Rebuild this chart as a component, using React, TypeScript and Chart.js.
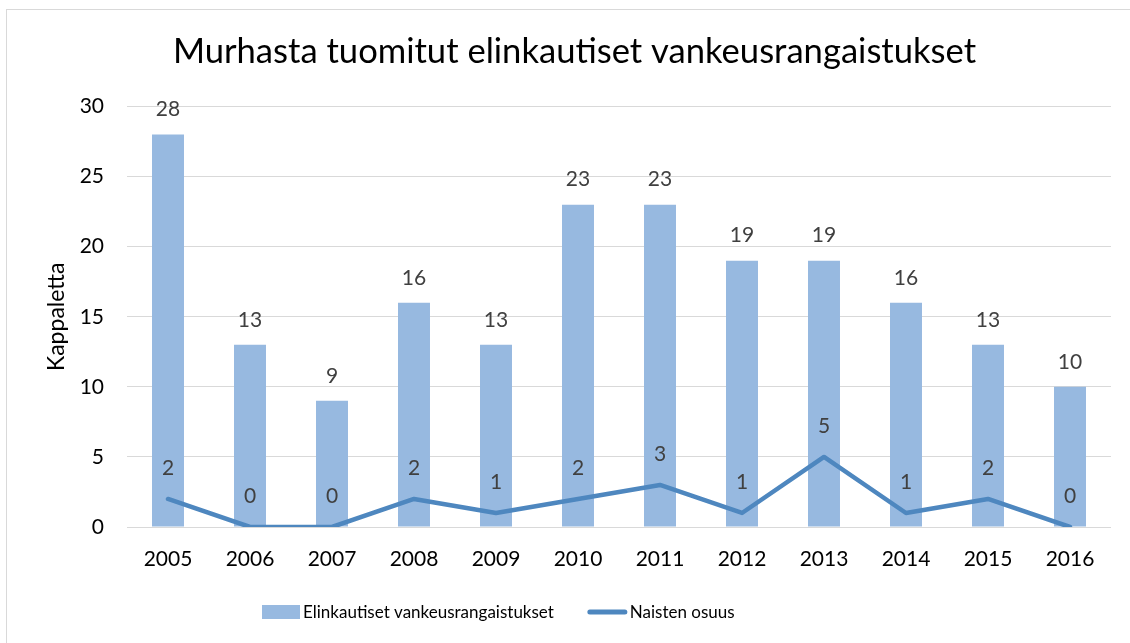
import React, { useEffect, useRef } from "react";
import { Chart, registerables } from "chart.js";

Chart.register(...registerables);

const years = ["2005", "2006", "2007", "2008", "2009", "2010", "2011", "2012", "2013", "2014", "2015", "2016"];
const lifeSentences = [28, 13, 9, 16, 13, 23, 23, 19, 19, 16, 13, 10];
const womenShare = [2, 0, 0, 2, 1, 2, 3, 1, 5, 1, 2, 0];
const yTicks = [0, 5, 10, 15, 20, 25, 30];

const FONT = "Lato";
const BAR_COLOR = "#97B9E0";
const LINE_COLOR = "#4E87BF";

const dataLabels = {
  id: "dataLabels",
  afterDatasetsDraw(chart: any) {
    const ctx = chart.ctx;
    ctx.save();
    ctx.font = `21px ${FONT}`;
    ctx.fillStyle = "#404040";
    ctx.textAlign = "center";
    ctx.textBaseline = "middle";
    chart.data.datasets.forEach((ds: any, i: number) => {
      const meta = chart.getDatasetMeta(i);
      const off = ds.type === "line" ? 31 : 25;
      meta.data.forEach((el: any, j: number) => {
        ctx.fillText(String(ds.data[j]), el.x, el.y - off);
      });
    });
    ctx.restore();
  },
};

const frame = {
  id: "frame",
  beforeDraw(chart: any) {
    const ctx = chart.ctx;
    ctx.save();
    ctx.fillStyle = "#ffffff";
    ctx.fillRect(0, 0, chart.width, chart.height);
    ctx.strokeStyle = "#D9D9D9";
    ctx.lineWidth = 1;
    ctx.strokeRect(6.5, 9.5, chart.width + 20, chart.height + 20);
    ctx.restore();
  },
};

// Legend drawn from the datasets (labels and colours)
const bottomLegend = {
  id: "bottomLegend",
  afterDraw(chart: any) {
    const ctx = chart.ctx;
    ctx.save();
    ctx.font = `17px ${FONT}`;
    ctx.textBaseline = "middle";
    ctx.textAlign = "left";
    const cy = 612;
    let x = 262;
    chart.data.datasets.forEach((ds: any) => {
      if (ds.type === "line") {
        ctx.strokeStyle = ds.borderColor;
        ctx.lineWidth = 5;
        ctx.lineCap = "round";
        ctx.beginPath();
        ctx.moveTo(x + 2, cy);
        ctx.lineTo(x + 37, cy);
        ctx.stroke();
        x += 42;
      } else {
        ctx.fillStyle = ds.backgroundColor;
        ctx.fillRect(x, cy - 7, 38, 14);
        x += 41;
      }
      ctx.fillStyle = "#000000";
      ctx.fillText(ds.label, x, cy + 1);
      x += ctx.measureText(ds.label).width + 34;
    });
    ctx.restore();
  },
};

export default function App() {
  const ref = useRef<HTMLCanvasElement>(null);
  useEffect(() => {
    document.body.style.margin = "0";
    const chart = new Chart(ref.current!, {
      type: "bar",
      data: {
        labels: years,
        datasets: [
          {
            type: "bar",
            label: "Elinkautiset vankeusrangaistukset",
            data: lifeSentences,
            backgroundColor: BAR_COLOR,
            borderWidth: 0,
            barPercentage: 0.39,
            categoryPercentage: 1,
            order: 1,
          } as any,
          {
            type: "line",
            label: "Naisten osuus",
            data: womenShare,
            borderColor: LINE_COLOR,
            backgroundColor: LINE_COLOR,
            borderWidth: 4.5,
            pointRadius: 0,
            pointHoverRadius: 0,
            tension: 0,
            borderCapStyle: "round",
            borderJoinStyle: "round",
            order: 0,
          } as any,
        ],
      },
      options: {
        responsive: false,
        animation: false,
        layout: { padding: { left: 38, right: 19, top: 0, bottom: 66 } },
        plugins: {
          title: {
            display: true,
            text: "Murhasta tuomitut elinkautiset vankeusrangaistukset",
            font: { family: FONT, size: 34.6, weight: "normal" },
            color: "#000000",
            padding: { top: 31, bottom: 34 },
          },
          legend: { display: false },
          tooltip: { enabled: false },
        },
        scales: {
          x: {
            grid: { display: false },
            border: { display: false },
            ticks: { font: { family: FONT, size: 21 }, color: "#000000", padding: 12 },
            afterFit: (s: any) => {
              s.height = 50;
            },
          },
          y: {
            min: 0,
            max: 30,
            afterBuildTicks: (s: any) => {
              s.ticks = yTicks.map((v) => ({ value: v }));
            },
            grid: { color: "#D9D9D9", lineWidth: 1, drawTicks: false },
            border: { display: false },
            ticks: { font: { family: FONT, size: 21 }, color: "#000000", padding: 23 },
            title: {
              display: true,
              text: "Kappaletta",
              font: { family: FONT, size: 23 },
              color: "#000000",
              padding: { top: 5, bottom: 0 },
            },
            afterFit: (s: any) => {
              s.width = 89;
            },
          },
        },
      },
      plugins: [frame, dataLabels, bottomLegend],
    });
    return () => chart.destroy();
  }, []);
  return (
    <div style={{ width: 1130, height: 643 }}>
      <canvas ref={ref} width={1130} height={643} style={{ display: "block" }} />
    </div>
  );
}
